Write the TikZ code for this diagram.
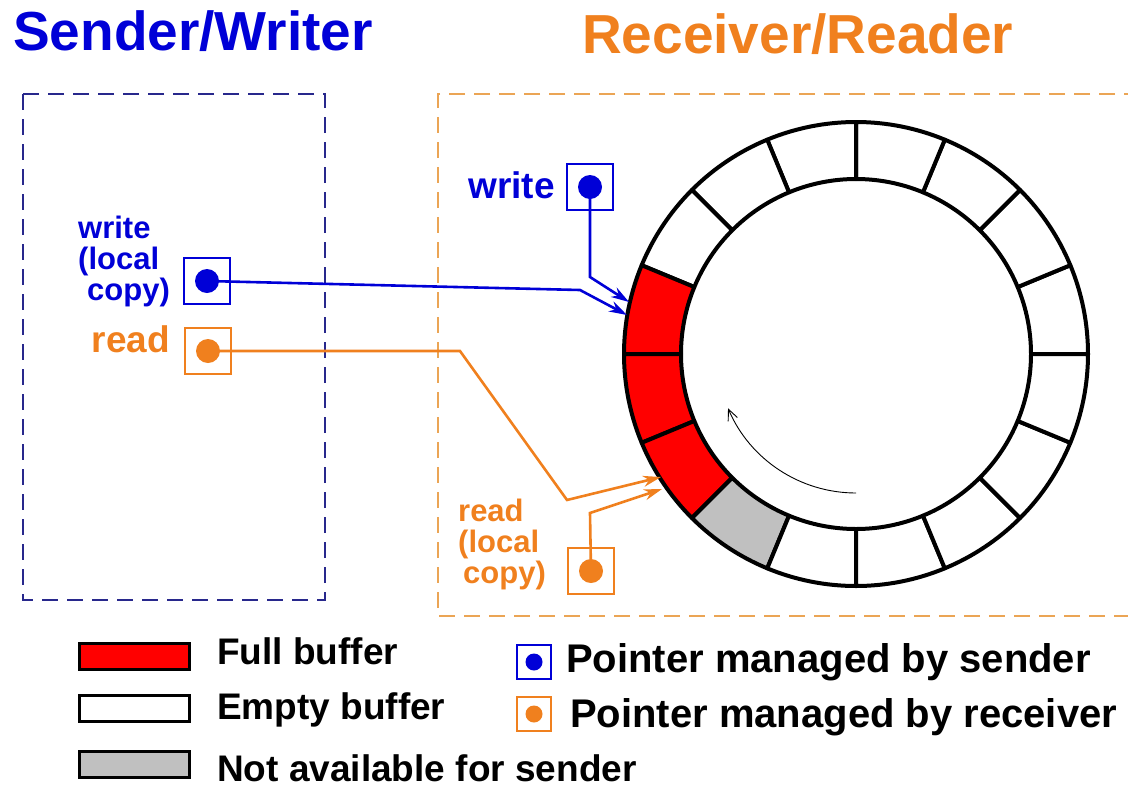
\documentclass[tikz,border=0pt]{standalone}
\usepackage{fontspec}
\setmainfont{Liberation Sans}
\usepackage{graphicx}
\usetikzlibrary{arrows.meta,calc}
\definecolor{wblue}{RGB}{0,0,215}
\definecolor{rorange}{RGB}{240,128,30}
\definecolor{navy}{RGB}{40,40,140}
\definecolor{lorange}{RGB}{235,165,85}
\definecolor{bufred}{RGB}{255,0,0}
\definecolor{bufgray}{RGB}{192,192,192}
\tikzset{
  ptrbox/.style={draw, line width=2.2, minimum size=46, inner sep=0, fill=white},
  ptrdot/.style={circle, inner sep=0, minimum size=24},
  titletext/.style={font=\fontsize{55}{60}\selectfont\bfseries, inner sep=0},
  lbl/.style={font=\fontsize{31}{31}\selectfont\bfseries, align=left, inner sep=0},
  bigl/.style={font=\fontsize{37}{40}\selectfont\bfseries, inner sep=0},
  legtext/.style={font=\fontsize{37}{40}\selectfont\bfseries, inner sep=0, anchor=base west},
  legtextb/.style={font=\fontsize{40}{42}\selectfont\bfseries, inner sep=0, anchor=base west},
  legbox/.style={draw=black, line width=3, minimum width=110, minimum height=26, inner sep=0},
  conn/.style={line width=2.6, -{Stealth[length=18,width=11]}},
  region/.style={dash pattern=on 16pt off 9pt, line width=1.5},
}
\begin{document}
\begin{tikzpicture}[x=1pt,y=1pt]
\useasboundingbox (0,0) rectangle (1128,-793);

% titles
\node[titletext, text=wblue, anchor=base west] (t1) at (13,-50) {Sender/Writer};
\node[titletext, text=rorange, anchor=base west] (t2) at (582,-53) {Receiver/Reader};

% regions
\draw[region, navy] (23,-94) rectangle (325,-600);
\draw[region, lorange] (1140,-94) -- (438,-94) -- (438,-616) -- (1140,-616);

% ring
\coordinate (c) at (856,-354);
\begin{scope}[shift={(856,-354)}]
\foreach \a/\col in {0/white,22.5/white,45/white,67.5/white,90/white,112.5/white,135/white,
  157.5/bufred,180/bufred,202.5/bufred,225/bufgray,247.5/white,270/white,292.5/white,315/white,337.5/white}{
  \pgfmathsetmacro\b{\a+22.5}
  \filldraw[fill=\col, draw=black, line width=4, line join=round]
    (\a:175) -- (\a:232) arc[start angle=\a, end angle=\b, radius=232]
    -- (\b:175) arc[start angle=\b, end angle=\a, radius=175] -- cycle;
}
\draw[line width=0.9, -{Straight Barb[length=11,width=10]}]
  (270:139) arc[start angle=270, end angle=203, radius=139];
\end{scope}

% pointer boxes
\node[ptrbox, draw=wblue] (wbox) at (590,-187) {};
\node[ptrdot, fill=wblue] (wdot) at (wbox.center) {};
\node[ptrbox, draw=wblue] (wlbox) at (207,-281) {};
\node[ptrdot, fill=wblue] (wldot) at (wlbox.center) {};
\node[ptrbox, draw=rorange] (rbox) at (208,-351) {};
\node[ptrdot, fill=rorange] (rdot) at (rbox.center) {};
\node[ptrbox, draw=rorange] (rlbox) at (591,-571) {};
\node[ptrdot, fill=rorange] (rldot) at (rlbox.center) {};

% labels
\node[bigl, text=wblue, anchor=base east] (wlab) at (555,-198) {write};
\node[lbl, text=wblue, anchor=base west] (wllab) at (78,-300) {write\\(local\\\hspace*{9pt}copy)};
\node[bigl, text=rorange, anchor=base east] (rlab) at (170,-352) {read};
\node[lbl, text=rorange, anchor=base west] (rllab) at (458,-583) {read\\(local\\\hspace*{5pt}copy)};

% connector end points
\coordinate (wtip1) at (629,-302);
\coordinate (wtip2) at (627,-315);
\coordinate (otip1) at (661,-477);
\coordinate (otip2) at (662,-489);
\coordinate (wb1) at (590,-277);
\coordinate (wb2) at (580,-290);
\coordinate (ob1) at (460,-351);
\coordinate (ob2) at (567,-500);
\coordinate (ob3) at (590,-513);

\draw[conn, wblue] (wdot.center) -- (wb1) -- (wtip1);
\draw[conn, wblue] (wldot.center) -- (wb2) -- (wtip2);
\draw[conn, rorange] (rdot.center) -- (ob1) -- (ob2) -- (otip1);
\draw[conn, rorange] (rldot.center) -- (ob3) -- (otip2);

% legend
\node[legbox, fill=bufred] (lg1) at (134,-656) {};
\node[legbox, fill=white] (lg2) at (134,-708) {};
\node[legbox, fill=bufgray] (lg3) at (134,-764) {};
\node[legtext] (lt1) at (217,-664) {Full buffer};
\node[legtext] (lt2) at (217,-719) {Empty buffer};
\node[legtext] (lt3) at (217,-781) {Not available for sender};

\node[ptrbox, draw=wblue, minimum size=34, line width=1.8] (lb1) at (534,-662) {};
\node[ptrdot, fill=wblue, minimum size=17] (ld1) at (lb1.center) {};
\node[ptrbox, draw=rorange, minimum size=34, line width=1.8] (lb2) at (534,-714) {};
\node[ptrdot, fill=rorange, minimum size=17] (ld2) at (lb2.center) {};
\node[legtextb] (lt4) at (566,-672) {Pointer managed by sender};
\node[legtextb] (lt5) at (570,-727) {Pointer managed by receiver};
\end{tikzpicture}
\end{document}
